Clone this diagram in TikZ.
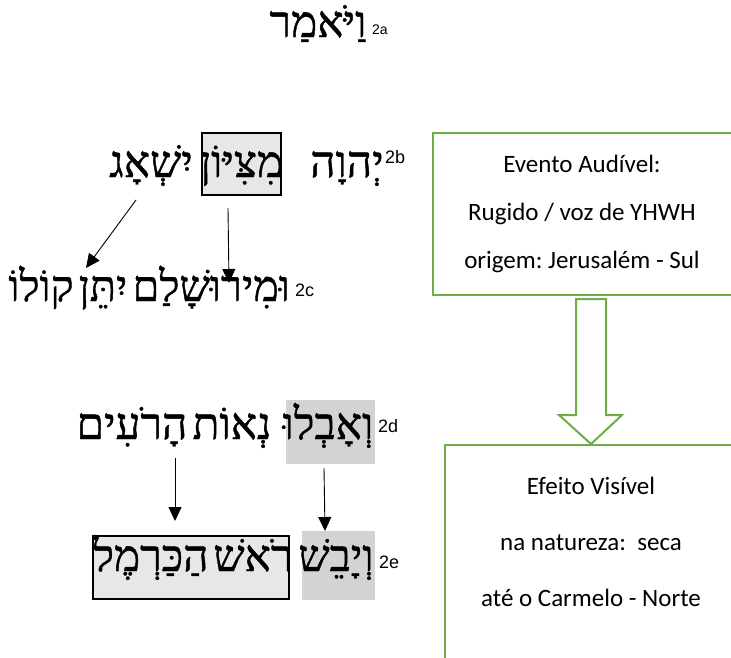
\documentclass[tikz,border=0pt]{standalone}
\usepackage{fontspec}
\setmainfont{Liberation Sans}
\newfontfamily\hebfont[Script=Hebrew,FakeBold=1]{Liberation Serif}
\newfontfamily\calfont{Carlito}
\TeXXeTstate=1
\frenchspacing
\usetikzlibrary{arrows.meta}
\definecolor{boxgreen}{HTML}{70AD47}
\definecolor{hlgray}{HTML}{D3D3D3}
\definecolor{boxgray}{HTML}{E7E7E7}
\newcommand{\hw}[1]{\beginR #1\endR}
\begin{document}
\begin{tikzpicture}[x=1pt,y=-1pt,
  hw/.style={font=\hebfont\fontsize{44}{50}\selectfont, inner sep=0pt, anchor=base},
  suplab/.style={font=\fontsize{18}{20}\selectfont, inner sep=0pt, anchor=base west},
  arr/.style={line width=0.9pt, -{Triangle[length=14pt,width=13pt]}},
  hl/.style={fill=hlgray, draw=none, inner sep=0pt},
  bx/.style={fill=boxgray, draw=black, line width=1.4pt, inner sep=0pt},
  gbox/.style={draw=boxgreen, line width=2pt, fill=white, inner sep=0pt},
  gtext/.style={align=center, inner sep=0pt}
]
\useasboundingbox (0,0) rectangle (731,657);
\clip (0,0) rectangle (731,657);
\fill[white] (0,0) rectangle (731,657);

% 2a
\node[hw] (vay) at (318,37) {\hw{וַיֹּאמַר}};
\node[suplab, font=\fontsize{14}{16}\selectfont] (s2a) at (372,34) {2a};

% 2b
\node[bx, minimum width=79pt, minimum height=62pt] (zionbox) at (241.5,164) {};
\node[hw] (yhwh) at (347,177) {\hw{יְהוָה}};
\node[hw] (zion) at (241.5,177) {\hw{מִצִּיּוֹן}};
\node[hw] (roar) at (151,177) {\hw{יִשְׁאָג}};
\node[suplab] (s2b) at (385,163) {2b};

% 2c
\node[hw, anchor=base east, font=\hebfont\fontsize{43}{50}\selectfont] (jer) at (290,301) {\hw{וּמִירוּשָׁלַם}};
\node[hw, font=\hebfont\fontsize{43}{50}\selectfont] (give) at (103,301) {\hw{יִתֵּן}};
\node[hw, font=\hebfont\fontsize{43}{50}\selectfont] (voice) at (41,301) {\hw{קוֹלוֹ}};
\node[suplab] (s2c) at (295,296) {2c};

\coordinate (a1s) at (136,200);
\coordinate (a1e) at (86,268);
\coordinate (a2s) at (228,208);
\coordinate (a2e) at (229,283);
\draw[arr] (a1s) -- (a1e);
\draw[arr] (a2s) -- (a2e);

% 2d
\node[hl, minimum width=89pt, minimum height=64pt] (mournbox) at (330.5,432) {};
\node[hw] (mourn) at (328,439) {\hw{וְאָבְלוּ}};
\node[hw] (past) at (232,439) {\hw{נְאוֹת}};
\node[hw] (shep) at (132,439) {\hw{הָרֹעִים}};
\node[suplab] (s2d) at (378,432) {2d};

% 2e
\node[hl, minimum width=73pt, minimum height=69pt] (drybox) at (338.5,565.5) {};
\node[bx, minimum width=196pt, minimum height=63pt] (carmbox) at (191,567.5) {};
\node[hw] (dry) at (336,571) {\hw{וְיָבֵשׁ}};
\node[hw] (head) at (253,571) {\hw{רֹאשׁ}};
\node[hw] (carm) at (151,571) {\hw{הַכַּרְמֶל}};
\node[suplab] (s2e) at (379,568) {2e};

\coordinate (a3s) at (175,458);
\coordinate (a3e) at (175,521);
\coordinate (a4s) at (324,468);
\coordinate (a4e) at (325,531);
\draw[arr] (a3s) -- (a3e);
\draw[arr] (a4s) -- (a4e);

% green boxes
\node[gbox, minimum width=300pt, minimum height=162pt] (event) at (583,214) {};
\node[gtext, font=\calfont\fontsize{25}{48}\selectfont] (evtext) at (582,214) {Evento Audível:\\Rugido / voz de YHWH\\origem: Jerusalém - Sul};

\draw[boxgreen, line width=2pt, fill=white, line join=miter]
  (576,299) -- (606,299) -- (606,415) -- (622,415) -- (591,444) -- (559,415) -- (576,415) -- cycle;

\node[gbox, minimum width=292pt, minimum height=240pt] (effect) at (591,565) {};
\node[gtext, font=\calfont\fontsize{25}{56}\selectfont] (eftext) at (591,542) {Efeito Visível\\na natureza:~ seca\\até o Carmelo - Norte};
\end{tikzpicture}
\end{document}
